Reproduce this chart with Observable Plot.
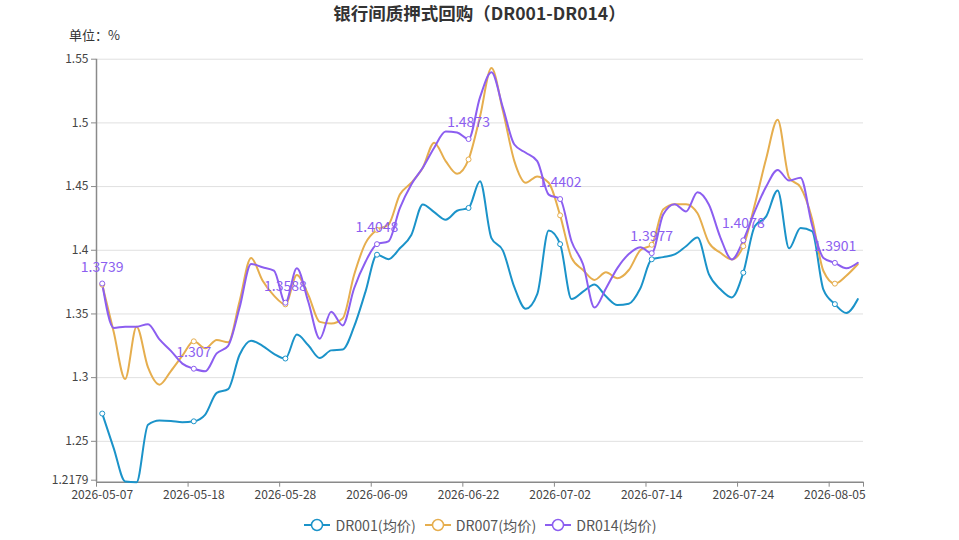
<!DOCTYPE html>
<html>
<head>
<meta charset="utf-8">
<script src="https://cdn.jsdelivr.net/npm/d3@7"></script>
<script src="https://cdn.jsdelivr.net/npm/@observablehq/plot@0.6"></script>
<style>
  html, body { margin: 0; padding: 0; background: #fff; }
  body { width: 959px; height: 540px; overflow: hidden; font-family: "Noto Sans CJK SC", "Noto Sans", sans-serif; }
  #head { position: relative; height: 46px; }
  #title { position: absolute; left: 0; width: 959px; top: 0px; text-align: center; font-size: 17.5px; font-weight: bold; color: #333; line-height: 26px; }
  #unit { position: absolute; left: 69px; top: 26px; font-size: 13px; color: #333; line-height: 18px; }
  #legend { height: 30px; display: flex; justify-content: center; align-items: center; gap: 9px; font-size: 14.2px; color: #555; padding-left: 2px; }
  .item { display: flex; align-items: center; gap: 5px; }
</style>
</head>
<body>
<div id="head"><div id="title">银行间质押式回购（DR001-DR014）</div><div id="unit">单位：%</div></div>
<div id="chart"></div>
<div id="legend"></div>
<script>
const dates = [
  "2026-05-07","2026-05-08","2026-05-09","2026-05-11","2026-05-12","2026-05-13","2026-05-14","2026-05-15",
  "2026-05-18","2026-05-19","2026-05-20","2026-05-21","2026-05-22","2026-05-25","2026-05-26","2026-05-27",
  "2026-05-28","2026-05-29","2026-06-01","2026-06-02","2026-06-03","2026-06-04","2026-06-05","2026-06-08",
  "2026-06-09","2026-06-10","2026-06-11","2026-06-12","2026-06-15","2026-06-16","2026-06-17","2026-06-18",
  "2026-06-22","2026-06-23","2026-06-24","2026-06-25","2026-06-26","2026-06-29","2026-06-30","2026-07-01",
  "2026-07-02","2026-07-03","2026-07-06","2026-07-07","2026-07-08","2026-07-09","2026-07-10","2026-07-13",
  "2026-07-14","2026-07-15","2026-07-16","2026-07-17","2026-07-20","2026-07-21","2026-07-22","2026-07-23",
  "2026-07-24","2026-07-27","2026-07-28","2026-07-29","2026-07-30","2026-07-31","2026-08-03","2026-08-04",
  "2026-08-05","2026-08-06","2026-08-07"
];
const dr001 = [
  1.2718,1.2447,1.2185,1.2179,1.2630,1.2664,1.2660,1.2650,
  1.2657,1.2710,1.2880,1.2910,1.3180,1.3290,1.3250,1.3187,
  1.3150,1.3338,1.3254,1.3154,1.3214,1.3220,1.3400,1.3675,
  1.3965,1.3930,1.4016,1.4120,1.4360,1.4300,1.4240,1.4310,
  1.4332,1.4542,1.4095,1.3997,1.3710,1.3540,1.3655,1.4155,
  1.4048,1.3617,1.3675,1.3732,1.3638,1.3570,1.3580,1.3700,
  1.3929,1.3946,1.3967,1.4032,1.4100,1.3810,1.3694,1.3630,
  1.3824,1.4188,1.4266,1.4470,1.4015,1.4175,1.4150,1.3690,
  1.3577,1.3507,1.3616
];
const dr007 = [
  1.3730,1.3360,1.2990,1.3400,1.3080,1.2945,1.3052,1.3172,
  1.3285,1.3230,1.3296,1.3277,1.3600,1.3940,1.3763,1.3644,
  1.3575,1.3806,1.3650,1.3438,1.3425,1.3464,1.3806,1.4056,
  1.4160,1.4200,1.4437,1.4530,1.4648,1.4845,1.4700,1.4600,
  1.4713,1.5050,1.5430,1.5095,1.4700,1.4530,1.4580,1.4530,
  1.4274,1.3940,1.3845,1.3767,1.3827,1.3780,1.3845,1.4000,
  1.4043,1.4320,1.4362,1.4362,1.4290,1.4058,1.3980,1.3928,
  1.4032,1.4357,1.4720,1.5024,1.4570,1.4494,1.4250,1.3837,
  1.3738,1.3800,1.3890
];
const dr014 = [
  1.3739,1.3390,1.3400,1.3400,1.3420,1.3300,1.3210,1.3110,
  1.3070,1.3050,1.3190,1.3250,1.3550,1.3893,1.3866,1.3840,
  1.3588,1.3858,1.3596,1.3306,1.3517,1.3410,1.3700,1.3910,
  1.4048,1.4070,1.4330,1.4516,1.4648,1.4805,1.4932,1.4924,
  1.4873,1.5200,1.5397,1.5120,1.4830,1.4766,1.4700,1.4437,
  1.4402,1.4069,1.3890,1.3550,1.3700,1.3860,1.3970,1.4024,
  1.3977,1.4280,1.4362,1.4305,1.4456,1.4357,1.4100,1.3928,
  1.4078,1.4305,1.4500,1.4631,1.4547,1.4570,1.4200,1.3940,
  1.3901,1.3858,1.3902
];
const seriesNames = ["DR001(均价)", "DR007(均价)", "DR014(均价)"];
const seriesColors = ["#1b93c9", "#e6ae4e", "#8c5ef0"];
const yTicks = [1.25, 1.3, 1.35, 1.4, 1.45, 1.5, 1.55];
const yMinTick = [1.2179];
const gridTicks = [1.25, 1.3, 1.35, 1.4, 1.45, 1.5, 1.55];
const labelEvery = 8;

const allSeries = [dr001, dr007, dr014];
const rows = allSeries.map((vals, s) => vals.map((v, i) => ({i, v, s})));
const marked = rows.map(r => r.filter(d => d.i % labelEvery === 0));
const labelIdx = d3.range(0, dates.length, labelEvery);
const boundaryIdx = labelIdx.map(i => i - 0.5).concat([dates.length - 0.5]);

const fmt = v => String(+v.toFixed(4));

const marks = [
  Plot.gridY(gridTicks, {stroke: "#e0e0e0", strokeOpacity: 1, strokeWidth: 1}),
  Plot.ruleY([1.2179], {stroke: "#8a8a8a", strokeWidth: 1.5}),
  Plot.ruleX([-0.5], {stroke: "#8a8a8a", strokeWidth: 1.5}),
  Plot.axisY(yTicks, {tickFormat: fmt, tickSize: 5, tickPadding: 3, stroke: "#8a8a8a", fill: "#444", fontSize: 12, label: null}),
  Plot.axisY(yMinTick, {tickFormat: fmt, tickSize: 5, tickPadding: 3, stroke: "#8a8a8a", fill: "#444", fontSize: 12, label: null, dy: -2}),
  Plot.axisX(boundaryIdx, {tickFormat: () => "", tickSize: 5, stroke: "#8a8a8a", label: null}),
  Plot.axisX(labelIdx, {tickFormat: i => dates[i], tickSize: 0, tickPadding: 8, fill: "#444", fontSize: 12, label: null})
];
rows.forEach((r, s) => {
  marks.push(Plot.line(r, {x: "i", y: "v", stroke: seriesColors[s], strokeWidth: 2, curve: "monotone-x"}));
});
marked.forEach((r, s) => {
  marks.push(Plot.dot(r, {x: "i", y: "v", r: 2.5, fill: "white", stroke: seriesColors[s], strokeWidth: 1}));
});
marks.push(Plot.text(marked[2], {x: "i", y: "v", text: d => fmt(d.v), fill: seriesColors[2], fontSize: 14, lineAnchor: "bottom", dy: -12}));

const chart = Plot.plot({
  width: 959,
  height: 464,
  marginTop: 12.7,
  marginBottom: 28.3,
  marginLeft: 96,
  marginRight: 96,
  x: {type: "linear", domain: [-0.5, dates.length - 0.5]},
  y: {type: "linear", domain: [1.2179, 1.55]},
  style: {fontFamily: '"Noto Sans CJK SC", "Noto Sans", sans-serif', background: "white"},
  marks
});
document.getElementById("chart").appendChild(chart);

const legend = document.getElementById("legend");
seriesNames.forEach((name, s) => {
  const item = document.createElement("div");
  item.className = "item";
  item.innerHTML = `<svg width="26" height="14"><line x1="0" y1="7" x2="26" y2="7" stroke="${seriesColors[s]}" stroke-width="2"/><circle cx="13" cy="7" r="5.5" fill="white" stroke="${seriesColors[s]}" stroke-width="1.5"/></svg><span>${name}</span>`;
  legend.appendChild(item);
});
</script>
</body>
</html>
